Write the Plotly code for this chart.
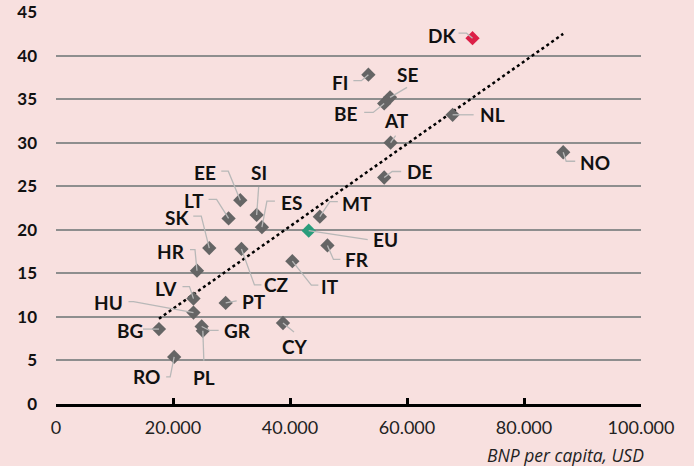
import numpy as np
import plotly.graph_objects as go

# ---------------- data ----------------
countries = ["DK", "FI", "SE", "BE", "NL", "AT", "DE", "NO", "MT", "EU", "FR", "EE", "LT", "SI",
             "ES", "SK", "HR", "CZ", "IT", "LV", "HU", "PT", "BG", "GR", "PL", "CY", "RO"]
gdp_per_capita = [71200, 53400, 57100, 56100, 67800, 57200, 56100, 86700, 45100, 43200, 46400,
                  31500, 29500, 34300, 35200, 26200, 24100, 31700, 40400, 23500, 23500, 29000,
                  17600, 24900, 25100, 38800, 20200]
y_values = [42.0, 37.8, 35.2, 34.5, 33.2, 30.0, 26.0, 28.9, 21.5, 19.9, 18.2, 23.4, 21.3, 21.7,
            20.3, 17.9, 15.3, 17.8, 16.4, 12.1, 10.5, 11.6, 8.6, 8.9, 8.4, 9.3, 5.4]
x_tickvals = [0, 20000, 40000, 60000, 80000, 100000]
x_ticktext = ["0", "20.000", "40.000", "60.000", "80.000", "100.000"]
y_tickvals = [0, 5, 10, 15, 20, 25, 30, 35, 40, 45]
x_title = "BNP per capita, USD"

# ---------------- styles ----------------
BG = "#F8E0DF"
GREY = "#656565"
HIGHLIGHT = {"DK": "#DC1F47", "EU": "#2A9D7C"}
FONT = "Lato"

# label offsets (screen px, y down) and leader paths (screen px relative to point)
label_style = {
    "DK": ((-31, -3), [(-14, -5), (-6, -5), (0, 0)]),
    "FI": ((-28, 8), [(-15, 6), (-7, 6), (0, 0)]),
    "SE": ((17, -23), [(0, 0), (17, -10)]),
    "BE": ((-38, 10), [(-20, 9), (-11, 9), (0, 0)]),
    "NL": ((40, 0), [(0, 0), (21, 0)]),
    "AT": ((6, -22), [(0, 0), (5, -7)]),
    "DE": ((35, -6), [(0, 0), (8, -6), (17, -6)]),
    "NO": ((32, 10), [(0, 0), (3, 9), (12, 9)]),
    "MT": ((37, -13), [(0, 0), (10, -15), (18, -15)]),
    "EU": ((77, 9), [(0, 0), (59, 9)]),
    "FR": ((30, 14), [(0, 0), (6, 14), (13, 14)]),
    "EE": ((-35, -28), [(-19, -29), (-12, -29), (0, 0)]),
    "LT": ((-35, -18), [(-20, -19), (-12, -19), (0, 0)]),
    "SI": ((2, -42), [(0, 0), (2, -28)]),
    "ES": ((30, -25), [(0, 0), (5, -26), (13, -26)]),
    "SK": ((-32, -31), [(-16, -32), (-8, -32), (0, 0)]),
    "HR": ((-26, -19), [(-7, -21), (-2, -21), (0, 0)]),
    "CZ": ((35, 36), [(0, 0), (13, 36), (20, 36)]),
    "IT": ((38, 25), [(0, 0), (19, 24), (26, 24)]),
    "LV": ((-27, -10), [(-11, -12), (-4, -12), (0, 0)]),
    "HU": ((-85, -10), [(-65, -11), (-60, -11), (0, 0)]),
    "PT": ((28, -1), [(0, 0), (11, -2)]),
    "BG": ((-29, 1), [(-16, 0), (0, 0)]),
    "GR": ((36, 4), [(0, 0), (8, 4), (17, 4)]),
    "PL": ((1, 47), [(0, 0), (1, 30)]),
    "CY": ((12, 24), [(0, 0), (11, 9)]),
    "RO": ((-28, 20), [(-8, 20), (-4, 20), (0, 0)]),
}

fig = go.Figure()

# trend line (least squares over countries, excluding EU aggregate)
xs = np.array([x for c, x in zip(countries, gdp_per_capita) if c != "EU"], dtype=float)
ys = np.array([y for c, y in zip(countries, y_values) if c != "EU"], dtype=float)
slope, intercept = np.polyfit(xs, ys, 1)
tx = np.array([xs.min(), xs.max()])
fig.add_trace(go.Scatter(x=tx, y=slope * tx + intercept, mode="lines",
                         line=dict(color="black", width=2.5, dash="dot"),
                         hoverinfo="skip", showlegend=False))

colors = [HIGHLIGHT.get(c, GREY) for c in countries]
fig.add_trace(go.Scatter(x=gdp_per_capita, y=y_values, mode="markers", text=countries,
                         marker=dict(symbol="diamond", size=11, color=colors,
                                     line=dict(width=0)),
                         showlegend=False))

shapes = []
annotations = []
for c, x, y in zip(countries, gdp_per_capita, y_values):
    (dx, dy), path = label_style[c]
    annotations.append(dict(x=x, y=y, xref="x", yref="y", text=c, showarrow=False,
                            xshift=dx, yshift=-dy, xanchor="center", yanchor="middle",
                            font=dict(family=FONT, size=19, color="#111111", weight="bold")))
    p = "M" + " L".join(f"{px},{-py}" for px, py in path)
    shapes.append(dict(type="path", xref="x", yref="y", xsizemode="pixel", ysizemode="pixel",
                       xanchor=x, yanchor=y, path=p, layer="above",
                       line=dict(color="#B8B8B8", width=1.3)))

annotations.append(dict(x=1, y=0, xref="paper", yref="paper", xanchor="right", yanchor="top",
                        yshift=-37, xshift=5, text=x_title, showarrow=False,
                        font=dict(family="Open Sans", size=17.5, color="#222222", style="italic")))

fig.update_layout(
    width=694, height=466,
    margin=dict(l=56, r=53, t=12, b=62, pad=0, autoexpand=False),
    paper_bgcolor=BG, plot_bgcolor=BG,
    shapes=shapes, annotations=annotations,
    xaxis=dict(range=[0, 100000], tickvals=x_tickvals, ticktext=x_ticktext,
               showgrid=False, zeroline=False, showline=True, linecolor="black", linewidth=3,
               ticks="inside", ticklen=6, tickwidth=3, tickcolor="black", automargin=False,
               tickfont=dict(family=FONT, size=18, color="#222222"), ticklabelstandoff=5),
    yaxis=dict(range=[0, 45], tickvals=y_tickvals, showgrid=True, gridcolor="#8E8E8E",
               gridwidth=1.5, zeroline=False, showline=False, ticks="", automargin=False,
               tickfont=dict(family=FONT, size=17, color="#111111", weight="bold"),
               ticklabelstandoff=18),
)

fig.write_html("out.html", config={"displayModeBar": False},
               post_script="document.body.style.margin='0';document.body.style.overflow='hidden';")
